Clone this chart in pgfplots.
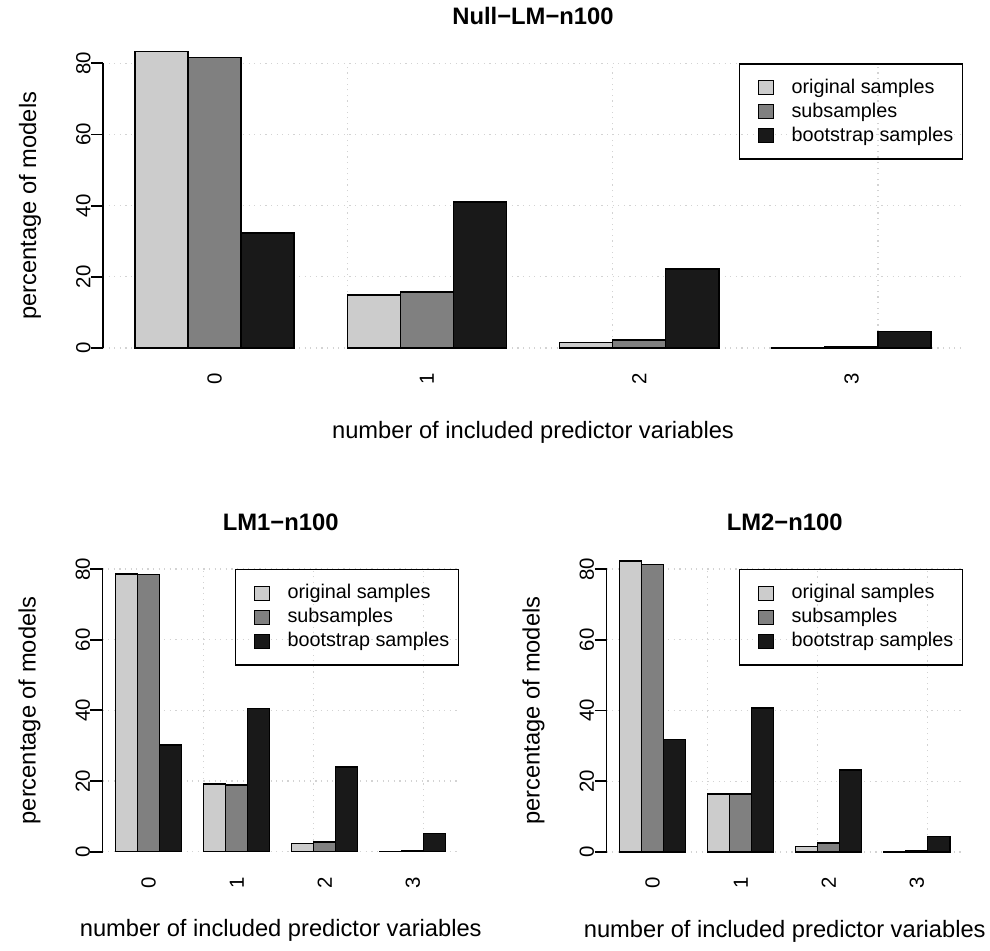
\documentclass[border=0pt]{standalone}
\usepackage{fontspec}
\setmainfont{Liberation Sans}
\usepackage{pgfplots}
\pgfplotsset{compat=1.18}

\definecolor{origc}{gray}{0.8}
\definecolor{subc}{gray}{0.5}
\definecolor{bootc}{gray}{0.1}
\definecolor{gridc}{RGB}{211,211,211}

\pgfplotsset{
  rbar/.style={
    scale only axis,
    xmin=0.4, xmax=16.6, ymin=0, ymax=80,
    clip=false,
    axis x line*=bottom, axis y line*=left,
    x axis line style={draw=none},
    y axis line style={line width=0.9pt, -},
    xtick={2.5,6.5,10.5,14.5},
    xticklabels={0,1,2,3},
    ytick={0,20,40,60,80},
    tick align=outside,
    major tick length=6pt,
    xtick style={draw=none},
    ytick style={line width=0.9pt, black},
    ymajorgrids=true,
    extra x ticks={5,10,15},
    extra x tick labels={},
    extra x tick style={grid=major},
    major grid style={gridc, line width=0.6pt, dash pattern=on 0.6pt off 2.2pt},
    /pgf/number format/assume math mode=true,
    tick label style={font=\fontsize{10.2}{12}\selectfont},
    xticklabel style={rotate=90, anchor=east, inner sep=0pt},
    xticklabel shift=6.3pt,
    yticklabel style={rotate=90, anchor=south, inner sep=0pt},
    every axis y label/.style={at={(axis description cs:0,0.5)}, xshift=-33.5pt, rotate=90, anchor=base, font=\fontsize{11.85}{14}\selectfont},
    every axis x label/.style={at={(axis description cs:0.5,0)}, yshift=-45pt, anchor=base, font=\fontsize{11.85}{14}\selectfont},
    every axis title/.style={at={(axis description cs:0.5,1)}, yshift=19.2pt, anchor=base, font=\bfseries\fontsize{11.9}{14}\selectfont},
    ylabel={percentage of models},
    xlabel={number of included predictor variables},
    legend style={
      at={(axis description cs:1,1)}, anchor=north east,
      draw=black, line width=0.7pt, fill=none,
      font=\fontsize{9.9}{11.65}\selectfont,
      inner xsep=4.5pt, inner ysep=6pt,
      row sep=0.3pt,
      nodes={inner sep=0pt, text height=8.6pt, text depth=3.05pt},
      /tikz/every odd column/.append style={column sep=8.85pt},
    },
    legend cell align=left,
    legend image code/.code={\path (0pt,0pt); \draw[#1, line width=0.6pt] (4.5pt,-3.5pt) rectangle (12pt,3.5pt);},
  },
  rb/.style={ybar, bar width=1, bar shift=0pt, draw=black, line width=0.7pt, fill=#1},
}

\begin{document}
\begin{tikzpicture}
\useasboundingbox (0,0) rectangle (495pt,475pt);

% Top panel
\begin{axis}[rbar, at={(51.5pt,301pt)}, anchor=south west,
  width=430pt, height=142.35pt, title={Null−LM−n100}]
\addplot[rb=origc] coordinates {(1.5,83.3) (5.5,14.9) (9.5,1.6) (13.5,0.1)};
\addplot[rb=subc] coordinates {(2.5,81.6) (6.5,15.7) (10.5,2.3) (14.5,0.3)};
\addplot[rb=bootc] coordinates {(3.5,32.3) (7.5,41.0) (11.5,22.2) (15.5,4.6)};
\legend{original samples, subsamples, bootstrap samples}
\end{axis}

% Bottom-left panel
\begin{axis}[rbar, at={(51.25pt,49.15pt)}, anchor=south west,
  width=178.25pt, height=141.35pt, title={LM1−n100},
  every axis x label/.append style={yshift=2.5pt}]
\addplot[rb=origc] coordinates {(1.5,78.6) (5.5,19.2) (9.5,2.4) (13.5,0.1)};
\addplot[rb=subc] coordinates {(2.5,78.5) (6.5,18.9) (10.5,2.8) (14.5,0.4)};
\addplot[rb=bootc] coordinates {(3.5,30.2) (7.5,40.6) (11.5,24.0) (15.5,5.2)};
\legend{original samples, subsamples, bootstrap samples}
\end{axis}

% Bottom-right panel
\begin{axis}[rbar, at={(303.25pt,49pt)}, anchor=south west,
  width=178.25pt, height=141.5pt, title={LM2−n100},
  every axis x label/.append style={yshift=2.5pt}]
\addplot[rb=origc] coordinates {(1.5,82.3) (5.5,16.4) (9.5,1.6) (13.5,0.1)};
\addplot[rb=subc] coordinates {(2.5,81.2) (6.5,16.4) (10.5,2.5) (14.5,0.3)};
\addplot[rb=bootc] coordinates {(3.5,31.8) (7.5,40.7) (11.5,23.2) (15.5,4.4)};
\legend{original samples, subsamples, bootstrap samples}
\end{axis}
\end{tikzpicture}
\end{document}
